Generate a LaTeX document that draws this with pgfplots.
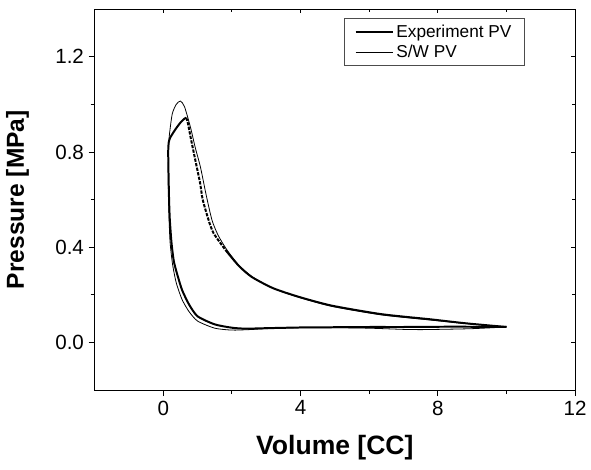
\documentclass[border=0pt]{standalone}
\usepackage{pgfplots}
\pgfplotsset{compat=1.18}
\usepackage{fontspec}
\setmainfont{Liberation Sans}

% experiment: compression + lower expansion (solid), upper expansion (dashed look)
\pgfplotstableread{
V P
10 0.065
9 0.066
8 0.066
7 0.065
6 0.065
5 0.064
4 0.063
3 0.060
2.4 0.058
2.0 0.062
1.5 0.076
1.0 0.11
0.75 0.16
0.55 0.22
0.42 0.28
0.31 0.34
0.24 0.42
0.19 0.52
0.17 0.60
0.155 0.70
0.145 0.80
0.16 0.84
0.21 0.862
0.36 0.896
0.50 0.923
0.62 0.940
0.67 0.944
}\expcomp
\pgfplotstableread{
V P
0.67 0.944
0.72 0.92
0.80 0.86
0.90 0.79
0.99 0.728
1.08 0.665
1.15 0.60
1.33 0.51
1.47 0.458
1.81 0.389
}\expexpa
\pgfplotstableread{
V P
1.81 0.389
2.2 0.322
2.58 0.275
3.2 0.228
3.94 0.192
4.9 0.155
6.35 0.119
7.8 0.097
8.78 0.081
10 0.065
}\expexpb
\pgfplotstableread{
V P
10 0.065
9 0.058
8 0.055
7.5 0.054
7 0.055
6 0.060
5 0.062
4 0.062
3 0.058
2.5 0.054
2.0 0.052
1.5 0.060
1.0 0.090
0.75 0.13
0.55 0.18
0.38 0.25
0.27 0.33
0.20 0.42
0.17 0.52
0.15 0.65
0.15 0.75
0.165 0.85
0.26 0.958
0.38 1.0
0.50 1.014
0.62 0.99
0.795 0.903
0.93 0.82
1.085 0.736
1.25 0.62
1.42 0.514
1.6 0.45
1.85 0.39
2.2 0.325
2.6 0.275
3.2 0.228
3.94 0.19
4.9 0.152
6.35 0.116
7.8 0.094
8.78 0.080
10 0.065
}\swpv

\begin{document}
\begin{tikzpicture}
\begin{axis}[
  scale only axis,
  width=362pt, height=287pt,
  xmin=-2, xmax=12, ymin=-0.2, ymax=1.4,
  xtick={0,4,8,12}, ytick={0,0.4,0.8,1.2},
  minor tick num=1,
  xtick pos=left, ytick pos=left,
  tick align=outside,
  major tick length=4.5pt, minor tick length=3pt,
  tick style={black, line width=0.6pt},
  axis line style={line width=0.8pt},
  yticklabel style={/pgf/number format/.cd, fixed, fixed zerofill, precision=1},
  /pgf/number format/assume math mode=true,
  ticklabel style={font=\fontsize{15.5}{17}\selectfont},
  xlabel={\textbf{Volume [CC]}},
  ylabel={\textbf{Pressure [MPa]}},
  xlabel style={at={(axis description cs:0.5,0)}, anchor=center, yshift=-43pt,
    font=\fontsize{20}{22}\selectfont},
  ylabel style={at={(axis description cs:0,0.5)}, anchor=center, yshift=58pt,
    font=\fontsize{18.5}{20}\selectfont},
  legend style={at={(axis description cs:0.896,0.977)}, anchor=north east,
    font=\fontsize{13}{15}\selectfont, draw=black!70, line width=0.6pt,
    inner xsep=8pt, inner ysep=3pt, row sep=0pt},
  legend cell align=left,
  legend image code/.code={\draw[#1] (0pt,0pt) -- (28pt,0pt);},
]
\addplot[black, line width=1.5pt, line join=round, smooth, tension=0.4] table[x=V, y=P] {\expcomp};
\addlegendentry{Experiment PV}
\addplot[black, line width=0.6pt, line join=round, smooth, tension=0.4] table[x=V, y=P] {\swpv};
\addlegendentry{S/W PV}
\addplot[black, line width=1.5pt, dash pattern=on 2.5pt off 1pt, smooth, tension=0.4, forget plot] table[x=V, y=P] {\expexpa};
\addplot[black, line width=1.5pt, line join=round, smooth, tension=0.4, forget plot] table[x=V, y=P] {\expexpb};
\end{axis}
\begin{axis}[
  scale only axis,
  width=362pt, height=287pt,
  xmin=-2, xmax=12, ymin=-0.2, ymax=1.4,
  xtick={0,4,8,12}, ytick={0,0.4,0.8,1.2},
  minor tick num=1,
  xtick pos=right, ytick pos=right,
  tick align=inside,
  major tick length=3pt, minor tick length=2pt,
  tick style={black, line width=0.6pt},
  axis line style={line width=0.8pt},
  xticklabels={}, yticklabels={},
]
\end{axis}
\path (current axis.south west) ++(-71.25pt,-60pt) coordinate (bbsw);
\path (current axis.north east) ++(9.75pt,6pt) coordinate (bbne);
\useasboundingbox (bbsw) rectangle (bbne);
\end{tikzpicture}
\end{document}
